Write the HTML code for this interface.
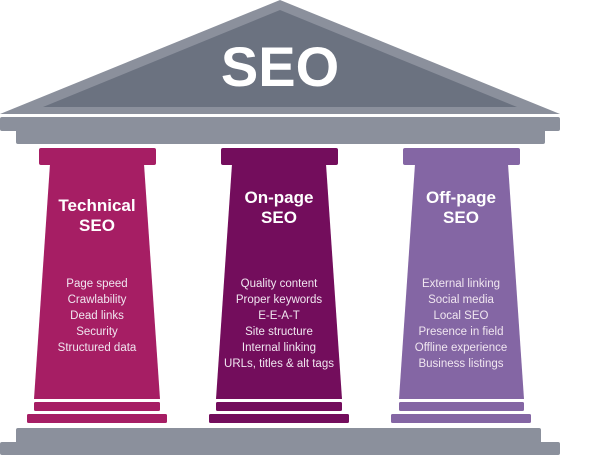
<!DOCTYPE html>
<html><head><meta charset="utf-8"><style>
html,body{margin:0;padding:0;background:#fff;}
svg{display:block;}
text{font-family:"Liberation Sans","DejaVu Sans",sans-serif;fill:#fff;text-anchor:middle;}
.t{font-weight:bold;font-size:17px;}
.i{font-size:11.5px;fill:#f0e6f0;}
</style></head><body>
<svg width="600" height="455" viewBox="0 0 600 455">
<polygon points="280,0 0,114 560,114" fill="#8b909c"/>
<polygon points="280,10 43,107 517,107" fill="#6b7280"/>
<text x="280" y="86" style="font-weight:bold;font-size:56px;">SEO</text>
<rect x="0" y="117" width="560" height="14" rx="2" fill="#8b909c"/>
<rect x="16" y="128" width="529" height="16" rx="2" fill="#8b909c"/>
<rect x="16" y="428" width="525" height="27" rx="2" fill="#8b909c"/>
<rect x="0" y="442" width="560" height="13" rx="2" fill="#8b909c"/>

<g fill="#a61e64">
<rect x="39" y="148" width="117" height="17" rx="2"/>
<polygon points="50,164 144,164 160,399 34,399"/>
<rect x="34" y="402" width="126" height="9" rx="1.5"/>
<rect x="27" y="414" width="140" height="9" rx="1.5"/>
</g>
<g fill="#730d5c">
<rect x="221" y="148" width="117" height="17" rx="2"/>
<polygon points="232,164 326,164 342,399 216,399"/>
<rect x="216" y="402" width="126" height="9" rx="1.5"/>
<rect x="209" y="414" width="140" height="9" rx="1.5"/>
</g>
<g fill="#8466a4">
<rect x="403" y="148" width="117" height="17" rx="2"/>
<polygon points="415,164 508,164 524,399 399,399"/>
<rect x="399" y="402" width="125" height="9" rx="1.5"/>
<rect x="391" y="414" width="140" height="9" rx="1.5"/>
</g>

<text class="t" x="97" y="211">Technical</text>
<text class="t" x="97" y="231">SEO</text>
<text class="i" x="97" y="287">Page speed</text>
<text class="i" x="97" y="303">Crawlability</text>
<text class="i" x="97" y="319">Dead links</text>
<text class="i" x="97" y="335">Security</text>
<text class="i" x="97" y="351">Structured data</text>

<text class="t" x="279" y="203">On-page</text>
<text class="t" x="279" y="223">SEO</text>
<text class="i" x="279" y="287">Quality content</text>
<text class="i" x="279" y="303">Proper keywords</text>
<text class="i" x="279" y="319">E-E-A-T</text>
<text class="i" x="279" y="335">Site structure</text>
<text class="i" x="279" y="351">Internal linking</text>
<text class="i" x="279" y="367">URLs, titles &amp; alt tags</text>

<text class="t" x="461" y="203">Off-page</text>
<text class="t" x="461" y="223">SEO</text>
<text class="i" x="461" y="287">External linking</text>
<text class="i" x="461" y="303">Social media</text>
<text class="i" x="461" y="319">Local SEO</text>
<text class="i" x="461" y="335">Presence in field</text>
<text class="i" x="461" y="351">Offline experience</text>
<text class="i" x="461" y="367">Business listings</text>
</svg>
</body></html>
